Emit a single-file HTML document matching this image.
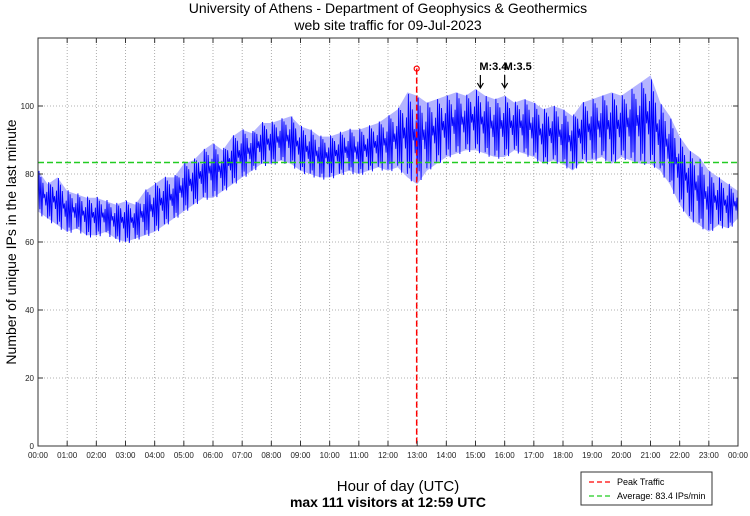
<!DOCTYPE html>
<html><head><meta charset="utf-8">
<style>
html,body{margin:0;padding:0;background:#fff;}
svg text{font-family:"Liberation Sans",sans-serif;}
</style></head>
<body>
<svg id="chart" width="750" height="511" viewBox="0 0 750 511" xmlns="http://www.w3.org/2000/svg">
<text x="388" y="13" font-size="14" text-anchor="middle">University of Athens - Department of Geophysics &amp; Geothermics</text>
<text x="388" y="30" font-size="14" text-anchor="middle">web site traffic for 09-Jul-2023</text>
<g id="grid"></g>
<g id="series"></g>
<g id="axes"></g>
<text transform="translate(16,242) rotate(-90)" font-size="14" text-anchor="middle">Number of unique IPs in the last minute</text>
<text x="398" y="491" font-size="15" text-anchor="middle">Hour of day (UTC)</text>
<text x="388" y="507" font-size="14" font-weight="bold" text-anchor="middle">max 111 visitors at 12:59 UTC</text>
<g>
<rect x="581" y="472" width="131" height="33" fill="#fff" stroke="#333" stroke-width="1"/>
<line x1="589" y1="482" x2="613" y2="482" stroke="#f00" stroke-width="1.3" stroke-dasharray="5,3"/>
<text x="617" y="485" font-size="9">Peak Traffic</text>
<line x1="589" y1="496" x2="613" y2="496" stroke="#2c2" stroke-width="1.3" stroke-dasharray="5,3"/>
<text x="617" y="499" font-size="9">Average: 83.4 IPs/min</text>
</g>
</svg>
<script>
const hiVals=[82,78,80,76,75,74,74,73,72,73,72,76,78,80,80,84,85,88,90,88,92,94,93,96,96,97,98,95,94,92,92,93,94,94,95,96,98,100,105,104,102,103,104,105,104,106,104,103,104,102,103,102,100,101,100,98,102,103,104,105,104,106,108,110,102,98,92,88,86,82,80,78,76];
const loVals=[68,66,64,62,63,61,61,62,60,59,60,61,62,64,66,68,70,72,72,74,76,78,80,82,82,83,82,80,79,78,78,79,80,79,80,81,80,81,78,76,80,82,84,85,86,86,85,84,84,86,85,84,82,83,82,80,83,83,84,82,84,83,82,82,80,76,70,66,64,62,64,63,66];
const yTicks=[0,20,40,60,80,100];
const xTickLabels=["00:00","01:00","02:00","03:00","04:00","05:00","06:00","07:00","08:00","09:00","10:00","11:00","12:00","13:00","14:00","15:00","16:00","17:00","18:00","19:00","20:00","21:00","22:00","23:00","00:00"];
const averageValue=83.4;
const peakMinute=779, peakValue=111;
const quakeLabels=["M:3.4","M:3.5"];
const quakeMinutes=[910,960];

const NS="http://www.w3.org/2000/svg";
const L=38,R=738,T=38,B=446,YMAX=120;
const xs=m=>L+(R-L)*m/1440;
const ys=v=>B-(B-T)*v/YMAX;
function mk(tag,attrs,parent){const e=document.createElementNS(NS,tag);for(const k in attrs)e.setAttribute(k,attrs[k]);parent.appendChild(e);return e;}
const grid=document.getElementById('grid'),axes=document.getElementById('axes'),series=document.getElementById('series');
mk('rect',{x:L,y:T,width:R-L,height:B-T,fill:'#fff'},grid);
xTickLabels.forEach((lab,i)=>{
  const x=xs(i*60);
  if(i>0&&i<24){const g=mk('line',{x1:x,y1:T,x2:x,y2:B,stroke:'#999','stroke-width':0.8,'stroke-dasharray':'1,2'},grid);
  
  }
  mk('line',{x1:x,y1:B,x2:x,y2:B-5,stroke:'#333'},axes);
  mk('line',{x1:x,y1:T,x2:x,y2:T+5,stroke:'#333'},axes);
  const t=mk('text',{x:x,y:B+12,'font-size':8,'text-anchor':'middle',fill:'#222'},axes);
  t.textContent=lab;
  
  
});
yTicks.forEach(v=>{
  const y=ys(v);
  if(v>0){const g=mk('line',{x1:L,y1:y,x2:R,y2:y,stroke:'#999','stroke-width':0.8,'stroke-dasharray':'1,2'},grid);
  
  }
  mk('line',{x1:L,y1:y,x2:L+5,y2:y,stroke:'#333'},axes);
  mk('line',{x1:R,y1:y,x2:R-5,y2:y,stroke:'#333'},axes);
  const t=mk('text',{x:L-4,y:y+3,'font-size':8,'text-anchor':'end',fill:'#222'},axes);
  t.textContent=v;
  
  
});
const box=mk('rect',{x:L,y:T,width:R-L,height:B-T,fill:'none',stroke:'#333','stroke-width':1},axes);


// envelope band (hi/lo per 20 min)
let topPts=[],botPts=[];
for(let i=0;i<hiVals.length;i++){topPts.push(xs(i*20)+','+ys(hiVals[i]-1));botPts.unshift(xs(i*20)+','+ys(loVals[i]+1));}
const band=mk('polygon',{points:topPts.concat(botPts).join(' '),fill:'#b4b4ff',stroke:'none'},series);


// dense zigzag between envelope edges (rendering of the band)
let pts=[];
const teeth=[0.15,0.9,0.3,0.75,0.05,0.6,0.95,0.2,0.7,0.4];
for(let i=0;i<hiVals.length-1;i++){
  for(let k=0;k<10;k++){
    const f=k/10, m=i*20+f*20;
    const hi=hiVals[i]+(hiVals[i+1]-hiVals[i])*f, lo=loVals[i]+(loVals[i+1]-loVals[i])*f;
    const s=(k%2===0)?teeth[k]*0.5:0.5+teeth[k]*0.5;
    pts.push(xs(m).toFixed(1)+','+ys(lo+(hi-lo)*s).toFixed(1));
  }
}
pts.push(xs(1440)+','+ys(loVals[loVals.length-1]));
const line=mk('polyline',{points:pts.join(' '),fill:'none',stroke:'#00f','stroke-width':0.9},series);


const avg=mk('line',{x1:L,y1:ys(averageValue),x2:R,y2:ys(averageValue),stroke:'#2c2','stroke-width':1.5,'stroke-dasharray':'6,3'},series);


const pk=mk('line',{x1:xs(peakMinute),y1:ys(peakValue),x2:xs(peakMinute),y2:B,stroke:'#f00','stroke-width':1.5,'stroke-dasharray':'6,3'},series);


const pc=mk('circle',{cx:xs(peakMinute),cy:ys(peakValue),r:2.5,fill:'none',stroke:'#f00','stroke-width':1.2},series);


quakeLabels.forEach((lab,i)=>{
  const x=xs(quakeMinutes[i]);
  const t=mk('text',{x:x-1,y:70,'font-size':11,'font-weight':'bold'},series);
  t.textContent=lab;
  
  
  const a=mk('g',{},series);
  
  
  mk('line',{x1:x,y1:75,x2:x,y2:87,stroke:'#000','stroke-width':1.2},a);
  mk('polyline',{points:(x-3)+',83 '+x+',88 '+(x+3)+',83',fill:'none',stroke:'#000','stroke-width':1.2},a);
});
</script>
</body></html>
